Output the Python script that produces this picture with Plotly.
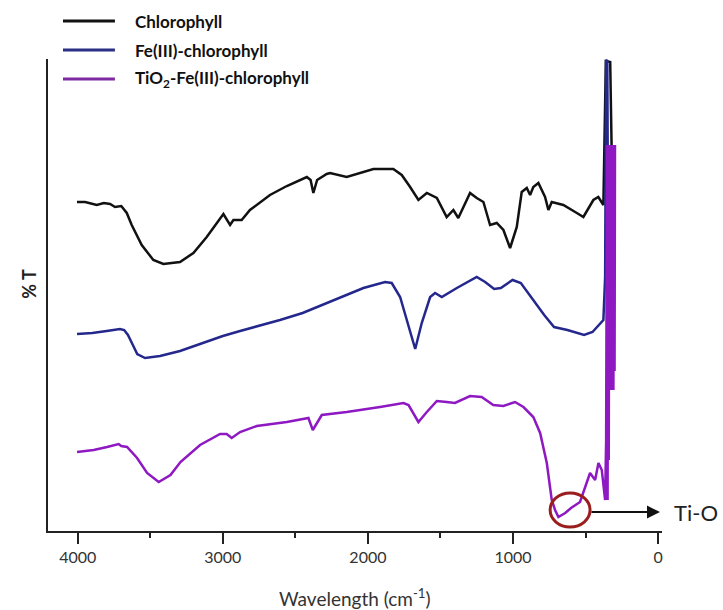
import plotly.graph_objects as go

# FTIR spectra, wavenumber (cm-1) vs %T (arbitrary units, curves offset)
chl_wn = [4005, 3949, 3869, 3820, 3777, 3743, 3700, 3662, 3628, 3559, 3479, 3410,
          3295, 3203, 3111, 3042, 2996, 2950, 2927, 2870, 2813, 2675, 2559, 2421,
          2395, 2376, 2350, 2284, 2261, 2146, 2031, 1962, 1825, 1767, 1709, 1652,
          1594, 1525, 1457, 1411, 1377, 1296, 1250, 1204, 1158, 1112, 1066, 1020,
          974, 940, 905, 882, 860, 825, 779, 756, 733, 653, 560, 515, 446, 412,
          377, 360, 330, 320]
chl_t = [329, 329, 326, 328, 327, 324, 325, 318, 306, 286, 271, 267,
         269, 278, 294, 308, 317, 306, 311, 311, 321, 336, 345, 354,
         351, 338, 351, 357, 358, 354, 359, 362, 362, 356, 344, 331,
         338, 333, 314, 321, 313, 338, 333, 329, 306, 308, 301, 283,
         304, 339, 343, 336, 344, 348, 334, 321, 329, 326, 318, 314, 331, 334,
         326, 470, 469, 381]

fe_wn = [4005, 3900, 3800, 3709, 3680, 3654, 3620, 3590, 3536, 3433, 3295, 3157,
         3000, 2881, 2750, 2606, 2450, 2330, 2261, 2146, 2031, 1882, 1836, 1778,
         1733, 1674, 1629, 1571, 1537, 1491, 1387, 1250, 1192, 1130, 1084, 1003,
         946, 877, 785, 717, 625, 510, 452, 377, 365, 358, 350, 343]
fe_t = [197, 198, 200, 202, 201, 196, 186, 177, 173, 175, 180, 187,
        195, 200, 205, 211, 218, 225, 229, 236, 243, 249, 248, 234,
        211, 182, 208, 234, 238, 234, 243, 254, 249, 242, 243, 251,
        248, 234, 216, 204, 201, 196, 199, 211, 254, 471, 470, 241]

tio2_wn = [4005, 3890, 3798, 3718, 3700, 3660, 3591, 3522, 3442, 3361, 3292, 3157,
           3019, 2973, 2939, 2881, 2766, 2559, 2410, 2380, 2318, 2146, 1916, 1755,
           1720, 1652, 1594, 1525, 1457, 1400, 1296, 1216, 1136, 1066, 986, 928,
           860, 813, 767, 733, 710, 687, 640, 600, 538, 491, 469, 434, 411, 388,
           365, 358, 352, 348, 344, 340, 336, 332, 328, 324, 320, 316, 312, 308,
           304, 300, 297]
tio2_t = [79, 81, 84, 87, 85, 84, 73, 58, 49, 56, 69, 86,
          97, 97, 93, 99, 105, 109, 113, 101, 116, 119, 124, 128,
          126, 109, 119, 130, 129, 128, 135, 134, 126, 125, 129, 124,
          114, 98, 68, 31, 21, 14, 18, 23, 29, 48, 58, 51, 68, 61,
          31, 91, 386, 31, 384, 71, 386, 141, 384, 141, 386, 141, 384, 141,
          386, 160, 386]

x_ticks = [4000, 3000, 2000, 1000, 0]
names = ["Chlorophyll", "Fe(III)-chlorophyll", "TiO<sub>2</sub>-Fe(III)-chlorophyll"]
colors = ["#111111", "#24288c", "#8e18c2"]
legend_colors = ["#111111", "#2b2f86", "#7d2aa0"]

fig = go.Figure()
for wn, t, name, c in zip([chl_wn, fe_wn, tio2_wn], [chl_t, fe_t, tio2_t], names, colors):
    fig.add_trace(go.Scatter(x=wn, y=t, mode="lines", name=name,
                             line=dict(color=c, width=2.5), showlegend=False))

# hand-made legend at top left
for i, (name, c) in enumerate(zip(names, legend_colors)):
    yp = [1.0805, 1.019, 0.9576][i]
    fig.add_shape(type="line", xref="paper", yref="paper", x0=0.0244, x1=0.109,
                  y0=yp, y1=yp, line=dict(color=c, width=3))
    fig.add_annotation(xref="paper", yref="paper", x=0.1384, y=yp, text="<b>%s</b>" % name,
                       showarrow=False, xanchor="left", yanchor="middle",
                       font=dict(size=17, color="#111111"))

# Ti-O band marker
fig.add_shape(type="circle", xref="x", yref="y", x0=744, x1=469, y0=4, y1=38,
              line=dict(color="#9a1e1e", width=3))
fig.add_annotation(xref="paper", yref="paper", x=0.9967, y=0.040, ax=-70, ay=0,
                   text="", showarrow=True, arrowhead=2, arrowsize=1.3,
                   arrowwidth=2, arrowcolor="#111111")
fig.add_annotation(xref="paper", yref="paper", x=1.0945, y=0.040, text="Ti-O",
                   showarrow=False, xanchor="right", yanchor="middle",
                   font=dict(size=22, color="#222222"))

# axis titles
fig.add_annotation(xref="paper", yref="paper", x=-0.0514, y=0.525, text="<b>% T</b>",
                   textangle=-90, showarrow=False, font=dict(size=18, color="#222222"))
fig.add_annotation(xref="paper", yref="paper", x=0.5, y=-0.14,
                   text="Wavelength (cm<sup>-1</sup>)", showarrow=False,
                   yanchor="middle", font=dict(size=19, color="#333333"))

fig.update_xaxes(range=[4205, -27], tickvals=x_ticks, ticks="outside", ticklen=11,
                 tickwidth=2, tickcolor="#222222", showline=True, linewidth=2,
                 linecolor="#222222", showgrid=False, zeroline=False,
                 tickfont=dict(size=16, color="#333333"),
                 minor=dict(dtick=500, tick0=0, ticks="outside", ticklen=5,
                            tickwidth=2, tickcolor="#222222", showgrid=False))
fig.update_yaxes(range=[0, 472], showline=True, linewidth=2, linecolor="#222222",
                 showticklabels=False, ticks="", showgrid=False, zeroline=False)

fig.update_layout(width=723, height=610, plot_bgcolor="white", paper_bgcolor="white",
                  margin=dict(l=48, r=61, t=59, b=79),
                  font=dict(family="Lato, 'Open Sans', sans-serif"))

# drop the default page margin so the 723x610 figure fills the window exactly
fig.write_html("out.html", config={"displayModeBar": False},
               post_script="document.body.style.margin='0';")
